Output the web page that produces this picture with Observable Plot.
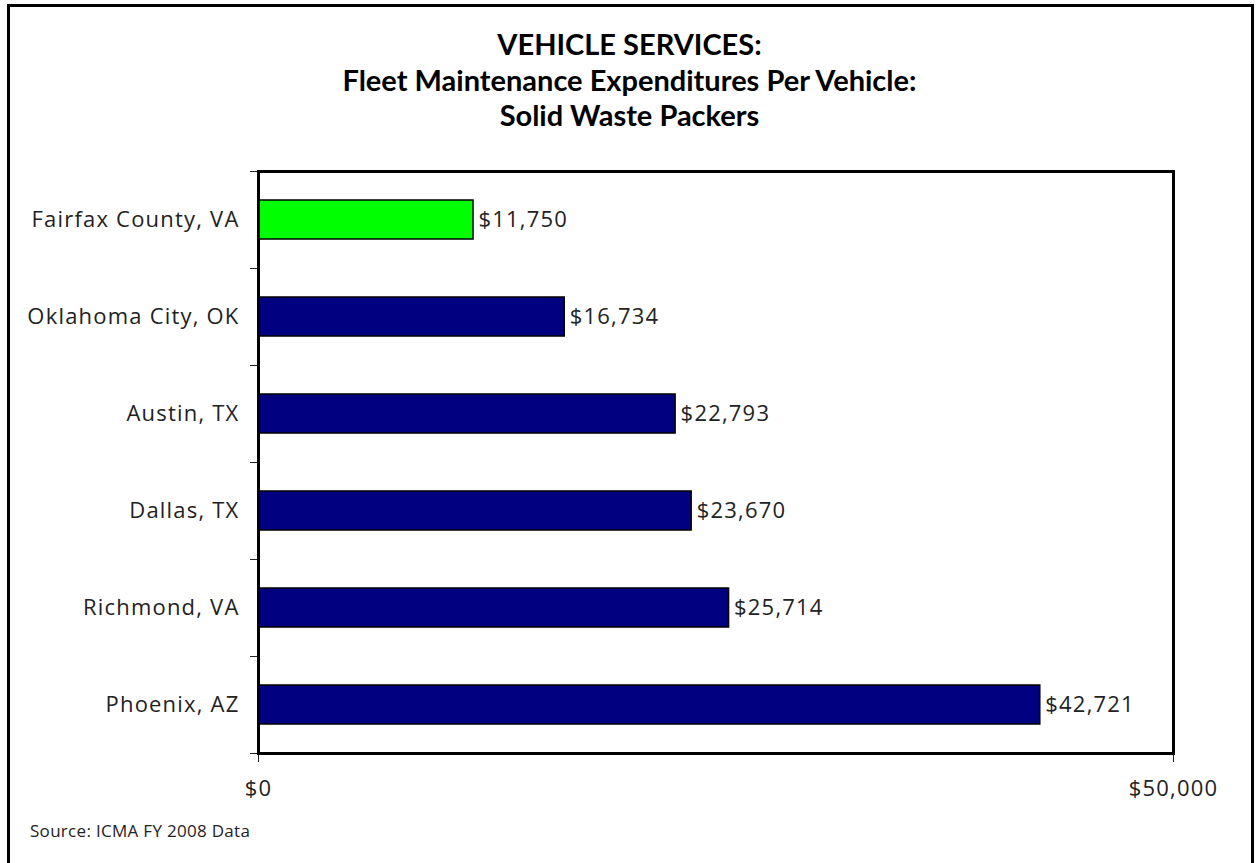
<!DOCTYPE html>
<html>
<head>
<meta charset="utf-8">
<script src="https://cdn.jsdelivr.net/npm/d3@7"></script>
<script src="https://cdn.jsdelivr.net/npm/@observablehq/plot@0.6"></script>
<style>
  html, body { margin: 0; padding: 0; background: #fff; }
  #wrap { position: relative; width: 1259px; height: 863px; overflow: hidden; font-family: "Open Sans", Lato, sans-serif; }
  #border { position: absolute; left: 7px; top: 4px; width: 1241px; height: 880px; border: 3px solid #000; box-sizing: content-box; }
  #title { position: absolute; left: 0; width: 1259px; top: 26px; text-align: center; font-family: Lato, sans-serif; font-weight: bold; font-size: 29px; line-height: 35.5px; color: #000; }
  #chart { position: absolute; left: 0; top: 0; }
  #source { position: absolute; left: 30px; top: 819px; font-size: 17px; letter-spacing: 0.3px; color: #222; }
</style>
</head>
<body>
<div id="wrap">
  <div id="border"></div>
  <div id="title">VEHICLE SERVICES:<br>Fleet Maintenance Expenditures Per Vehicle:<br>Solid Waste Packers</div>
  <div id="chart"></div>
  <div id="source">Source: ICMA FY 2008 Data</div>
</div>
<script>
const cities = ["Fairfax County, VA", "Oklahoma City, OK", "Austin, TX", "Dallas, TX", "Richmond, VA", "Phoenix, AZ"];
const values = [11750, 16734, 22793, 23670, 25714, 42721];
const colors = ["#00ff00", "#000080", "#000080", "#000080", "#000080", "#000080"];
const xTicks = [0, 50000];

const data = cities.map((c, i) => ({city: c, value: values[i], color: colors[i]}));

const W = 1259, H = 863, mt = 171, mb = 110, ml = 258, mr = 86;
const step = (H - mt - mb) / cities.length;
const fmt = d3.format("$,");

const plot = Plot.plot({
  width: W,
  height: H,
  marginTop: mt,
  marginBottom: mb,
  marginLeft: ml,
  marginRight: mr,
  style: {fontFamily: "'Open Sans', Lato, sans-serif", fontSize: "22px", letterSpacing: "1.2px", color: "#222", background: "transparent"},
  x: {domain: [0, 50000], axis: null},
  y: {domain: cities, paddingInner: 0.6, paddingOuter: 0.3, axis: null},
  marks: [
    Plot.barX(data, {x: "value", y: "city", fill: "color", stroke: "#000", strokeWidth: 1.5}),
    Plot.text(data, {x: "value", y: "city", text: d => fmt(d.value), textAnchor: "start", dx: 5, fontSize: 22, fill: "#222"}),
    Plot.axisY({tickSize: 0, tickPadding: 19, fontSize: 22, label: null}),
    Plot.axisY({tickSize: 8, tickFormat: () => "", dy: -step / 2, label: null, strokeWidth: 1}),
    Plot.axisY([cities[cities.length - 1]], {tickSize: 8, tickFormat: () => "", dy: step / 2, label: null, strokeWidth: 1}),
    Plot.axisX({ticks: xTicks, tickSize: 9, tickPadding: 18, tickFormat: fmt, fontSize: 22, label: null}),
    Plot.frame({stroke: "#000", strokeWidth: 3})
  ]
});
document.getElementById("chart").appendChild(plot);
</script>
</body>
</html>
